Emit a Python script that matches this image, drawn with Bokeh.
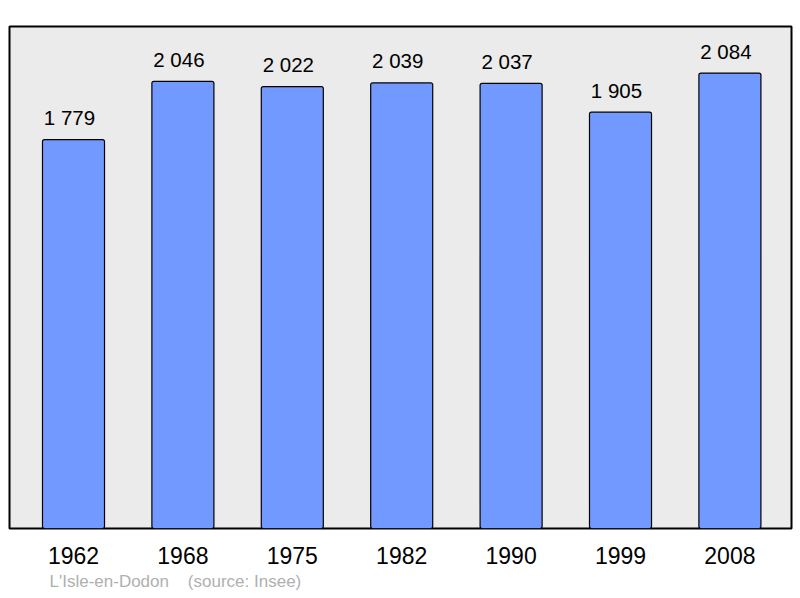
from bokeh.plotting import figure
from bokeh.models import ColumnDataSource, FixedTicker, Range1d, Title
from bokeh.core.properties import value
from bokeh.embed import file_html
from bokeh.resources import INLINE

years = ["1962", "1968", "1975", "1982", "1990", "1999", "2008"]
population = [1779, 2046, 2022, 2039, 2037, 1905, 2084]
value_labels = ["1 779", "2 046", "2 022", "2 039", "2 037", "1 905", "2 084"]
place = "L'Isle-en-Dodon"
source_note = "(source: Insee)"

xs = list(range(len(years)))
src = ColumnDataSource(dict(x=xs, top=population, lbl=value_labels))

FONT = "Liberation Sans"

p = figure(width=794, height=594, output_backend="svg", toolbar_location=None,
           x_range=Range1d(-0.585, 6.563), y_range=Range1d(0, 2297),
           min_border_left=9, min_border_right=3, min_border_top=26, min_border_bottom=0)

p.background_fill_color = "#ebebeb"
p.border_fill_color = "white"
p.outline_line_color = "black"
p.outline_line_width = 2
p.grid.visible = False
p.yaxis.visible = False

p.vbar(x="x", top="top", bottom=0, width=0.567, source=src,
       fill_color="#7299ff", line_color="black", line_width=1.2, border_radius=2)

p.text(x="x", y="top", text="lbl", source=src, y_offset=-22, x_offset=-4,
       text_align="center", text_baseline="alphabetic",
       text_font=value(FONT), text_font_size="20.5px", text_color="black")

ax = p.xaxis[0]
ax.ticker = FixedTicker(ticks=xs)
ax.major_label_overrides = {i: y for i, y in enumerate(years)}
ax.axis_line_color = None
ax.major_tick_line_color = None
ax.minor_tick_line_color = None
ax.major_tick_out = 0
ax.major_tick_in = 0
ax.major_label_standoff = 18
ax.major_label_text_font = FONT
ax.major_label_text_font_size = "23px"
ax.major_label_text_color = "black"

footer = Title(text=place + "\u00a0" * 4 + source_note, align="left", offset=40,
               standoff=7, text_font=FONT, text_font_size="17px",
               text_font_style="normal", text_color="#b0b0b0")
p.add_layout(footer, "below")

open("out.html", "w").write(file_html(p, INLINE))
